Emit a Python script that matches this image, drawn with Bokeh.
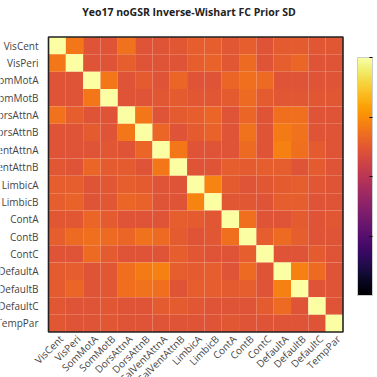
from math import pi
from bokeh.plotting import figure
from bokeh.models import (ColumnDataSource, Range1d, LinearColorMapper, ColorBar,
                          FixedTicker)
from bokeh.palettes import Inferno256
from bokeh.core.properties import value
from bokeh.embed import file_html
from bokeh.resources import INLINE

title_text = "Yeo17 noGSR Inverse-Wishart FC Prior SD"
networks = ["VisCent", "VisPeri", "SomMotA", "SomMotB", "DorsAttnA", "DorsAttnB",
            "SalVentAttnA", "SalVentAttnB", "LimbicA", "LimbicB", "ContA", "ContB",
            "ContC", "DefaultA", "DefaultB", "DefaultC", "TempPar"]

row_VisCent      = [1.00, .70, .61, .61, .69, .61, .61, .62, .64, .64, .62, .64, .61, .63, .63, .62, .62]
row_VisPeri      = [.70, 1.00, .61, .61, .64, .61, .61, .61, .64, .65, .62, .67, .61, .64, .66, .61, .61]
row_SomMotA      = [.61, .61, 1.00, .70, .61, .63, .61, .66, .61, .61, .66, .68, .67, .61, .61, .61, .61]
row_SomMotB      = [.61, .61, .70, 1.00, .61, .61, .62, .63, .62, .62, .63, .67, .63, .62, .62, .62, .62]
row_DorsAttnA    = [.69, .64, .61, .61, 1.00, .70, .61, .63, .64, .66, .61, .66, .61, .68, .68, .61, .61]
row_DorsAttnB    = [.61, .61, .63, .61, .70, 1.00, .66, .61, .63, .65, .61, .69, .61, .71, .69, .61, .61]
row_SalVentAttnA = [.61, .61, .61, .62, .61, .66, 1.00, .70, .61, .61, .61, .67, .61, .72, .68, .63, .61]
row_SalVentAttnB = [.62, .61, .66, .63, .63, .61, .70, 1.00, .61, .61, .64, .63, .64, .64, .61, .63, .61]
row_LimbicA      = [.64, .64, .61, .62, .64, .63, .61, .61, 1.00, .73, .63, .61, .62, .63, .64, .62, .61]
row_LimbicB      = [.64, .65, .61, .62, .66, .65, .61, .61, .73, 1.00, .62, .62, .61, .64, .64, .61, .61]
row_ContA        = [.62, .62, .66, .63, .61, .61, .61, .64, .63, .62, 1.00, .68, .61, .61, .63, .61, .62]
row_ContB        = [.64, .67, .68, .67, .66, .69, .67, .63, .61, .62, .68, 1.00, .64, .67, .64, .61, .61]
row_ContC        = [.61, .61, .67, .63, .61, .61, .61, .64, .62, .61, .61, .64, 1.00, .61, .61, .63, .61]
row_DefaultA     = [.63, .64, .61, .62, .68, .71, .72, .64, .63, .64, .61, .67, .61, 1.00, .72, .67, .61]
row_DefaultB     = [.63, .66, .61, .62, .68, .69, .68, .61, .64, .64, .63, .64, .61, .72, 1.00, .61, .61]
row_DefaultC     = [.62, .61, .61, .62, .61, .61, .63, .63, .62, .61, .61, .61, .63, .67, .61, 1.00, .61]
row_TempPar      = [.62, .61, .61, .62, .61, .61, .61, .61, .61, .61, .62, .61, .61, .61, .61, .61, 1.00]

matrix = [row_VisCent, row_VisPeri, row_SomMotA, row_SomMotB, row_DorsAttnA, row_DorsAttnB,
          row_SalVentAttnA, row_SalVentAttnB, row_LimbicA, row_LimbicB, row_ContA, row_ContB,
          row_ContC, row_DefaultA, row_DefaultB, row_DefaultC, row_TempPar]

cbar_low, cbar_high = 0.0, 1.0
cbar_ticks = [0.25, 0.5, 0.75, 1.0]

# ---- layout (canvas pixels) ----
W = H = 377
L, R, T, B = 48.0, 342.5, 36.5, 331.5
N = len(networks)
ux = (R - L) / N
uy = (B - T) / N

p = figure(width=W, height=H, output_backend="svg", toolbar_location=None,
           x_range=Range1d(-L / ux, N + (W - R) / ux),
           y_range=Range1d(-(H - B) / uy, N + T / uy),
           min_border=0, outline_line_color=None)
p.axis.visible = False
p.grid.visible = False
p.background_fill_color = "white"
p.border_fill_color = "white"

mapper = LinearColorMapper(palette=Inferno256, low=cbar_low, high=cbar_high)

xs, ys, vals = [], [], []
for i, row in enumerate(matrix):
    for j, v in enumerate(row):
        xs.append(j + 0.5)
        ys.append(N - i - 0.5)
        vals.append(v)
src = ColumnDataSource(dict(x=xs, y=ys, v=vals))
p.rect(x="x", y="y", width=1, height=1, source=src,
       fill_color={"field": "v", "transform": mapper}, line_color=None)

# frame border
p.rect(x=[N / 2], y=[N / 2], width=N, height=N, fill_color=None,
       line_color="#222222", line_width=1.6)

# y labels
ysrc = ColumnDataSource(dict(x=[0] * N, y=[N - i - 0.5 for i in range(N)], t=networks))
p.text(x="x", y="y", text="t", source=ysrc, x_offset=-10,
       text_align="right", text_baseline="middle",
       text_font=value("Open Sans"), text_font_size="10px", text_color="#444444")

# x labels
xsrc = ColumnDataSource(dict(x=[j + 0.5 for j in range(N)], y=[0] * N, t=networks))
p.text(x="x", y="y", text="t", source=xsrc, x_offset=4, y_offset=5, angle=pi / 4,
       text_align="right", text_baseline="middle",
       text_font=value("Open Sans"), text_font_size="10px", text_color="#444444")

# title
p.text(x=[(188.5 - L) / ux], y=[N + T / uy], text=[title_text], y_offset=11.5,
       text_align="center", text_baseline="alphabetic",
       text_font=value("Open Sans"), text_font_size="10.5px",
       text_font_style="bold", text_color="#222222")

cb = ColorBar(color_mapper=mapper, location=(357, 82), width=15, height=238,
              padding=0, margin=0,
              ticker=FixedTicker(ticks=cbar_ticks),
              major_label_overrides={t: "" for t in cbar_ticks},
              major_tick_in=3, major_tick_out=0, major_tick_line_color="black",
              minor_tick_line_color=None,
              bar_line_color="#cccccc", bar_line_width=1,
              border_line_color=None, background_fill_alpha=0)
p.add_layout(cb)

open("out.html", "w").write(file_html(p, INLINE))
